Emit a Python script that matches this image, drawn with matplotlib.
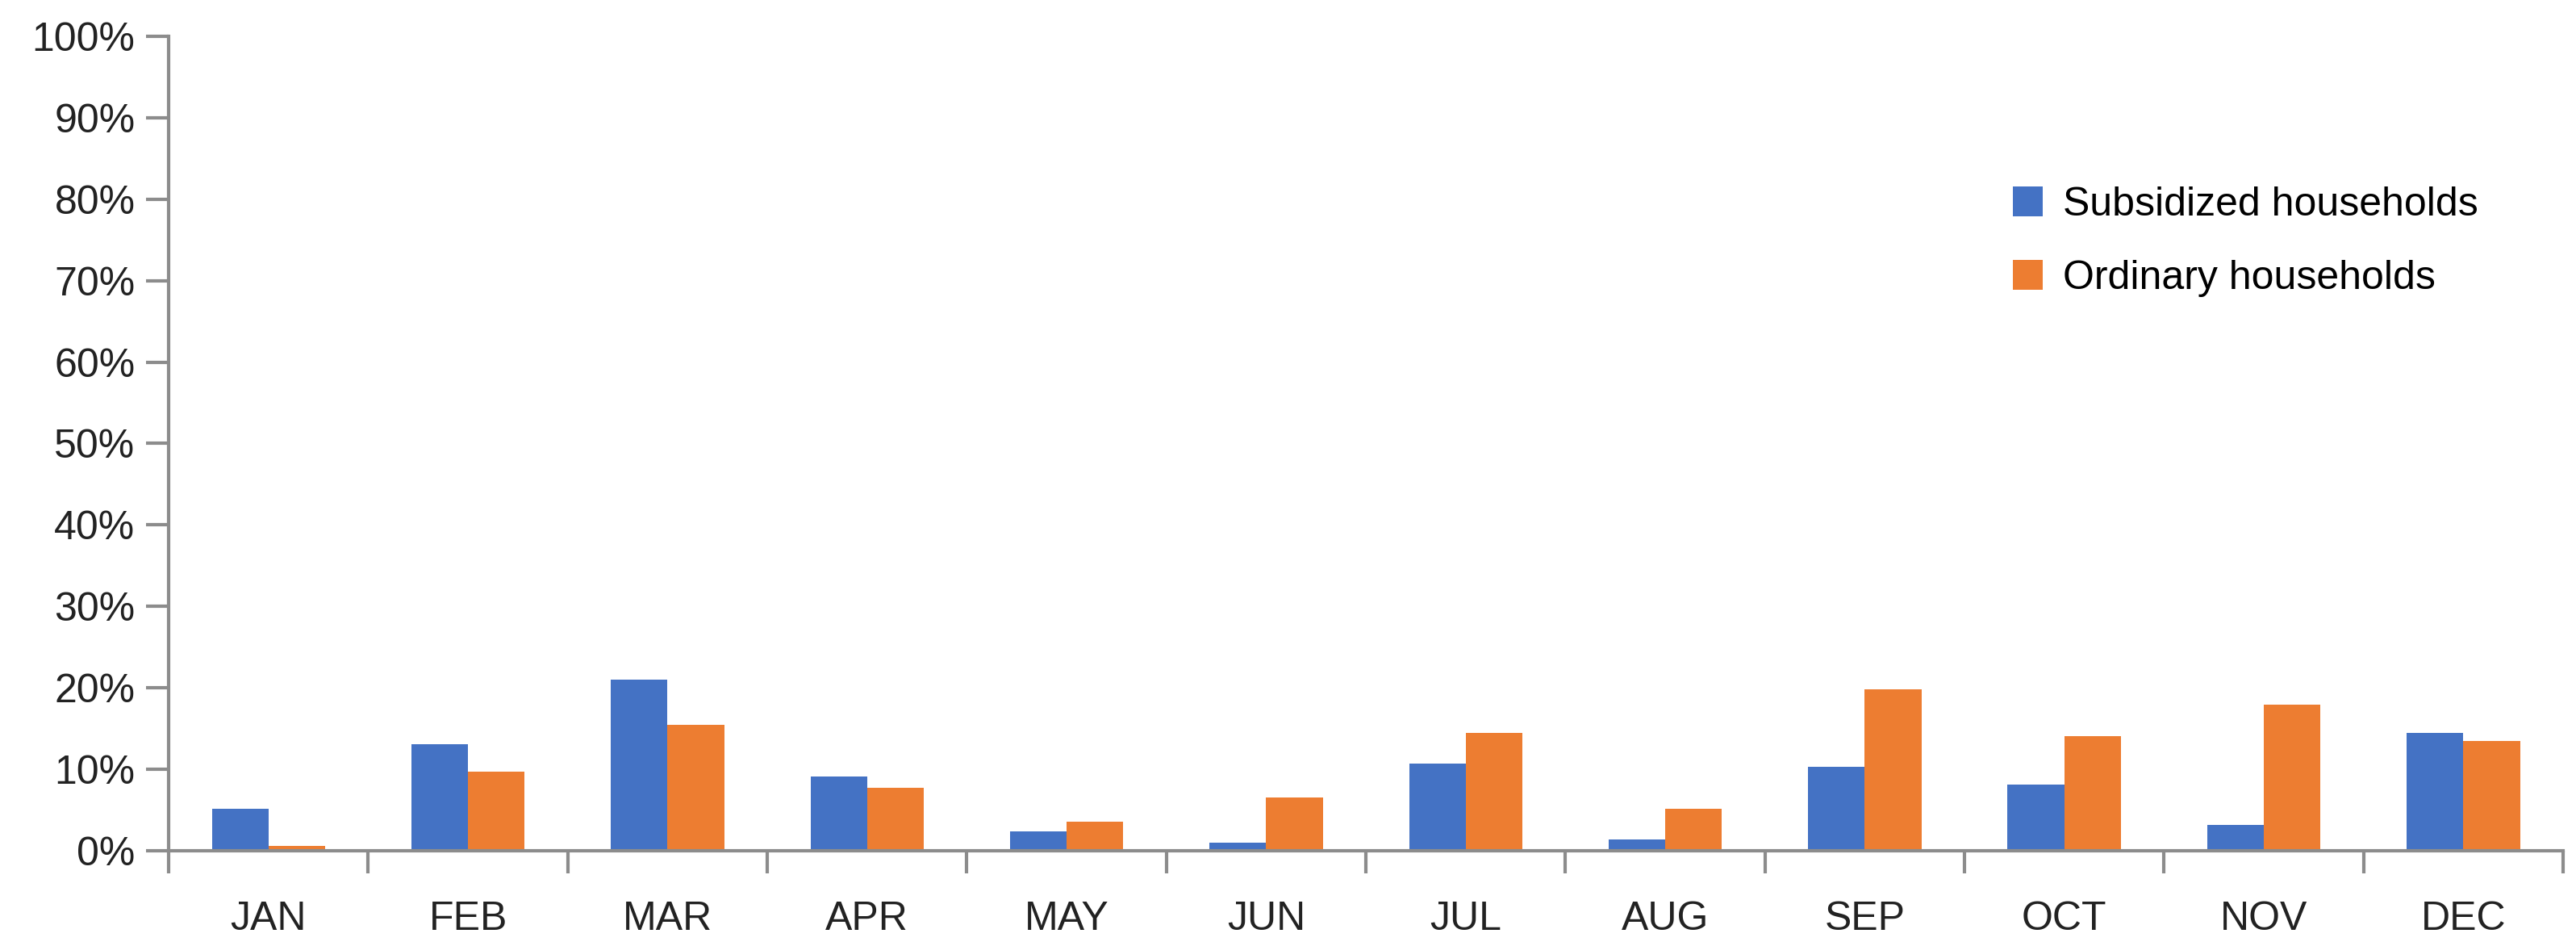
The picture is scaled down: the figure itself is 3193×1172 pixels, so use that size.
import matplotlib
matplotlib.use("Agg")
import matplotlib.pyplot as plt
import numpy as np
from matplotlib.ticker import PercentFormatter, FixedLocator

months = ["JAN", "FEB", "MAR", "APR", "MAY", "JUN", "JUL", "AUG", "SEP", "OCT", "NOV", "DEC"]
subsidized = [5.2, 13.1, 21.0, 9.1, 2.4, 1.0, 10.7, 1.4, 10.3, 8.1, 3.2, 14.5]
ordinary = [0.6, 9.7, 15.5, 7.7, 3.6, 6.5, 14.5, 5.2, 19.8, 14.1, 17.9, 13.5]

plt.rcParams["font.family"] = ["Liberation Sans", "DejaVu Sans"]
grey = "#8c8c8c"

fig = plt.figure(figsize=(31.93, 11.72), dpi=100)
ax = fig.add_axes([0.0655, 0.1007, 0.9295, 0.861])

x = np.arange(len(months))
w = 0.284
ax.bar(x - w / 2, subsidized, w, color="#4472c4", label="Subsidized households")
ax.bar(x + w / 2, ordinary, w, color="#ed7d31", label="Ordinary households")

ax.set_xlim(-0.5, len(months) - 0.5)
ax.set_ylim(0, 100)
ax.set_yticks(np.arange(0, 101, 10))
ax.yaxis.set_major_formatter(PercentFormatter(decimals=0))
ax.set_xticks(x)
ax.set_xticklabels(months)
ax.xaxis.set_minor_locator(FixedLocator(np.arange(-0.5, len(months), 1)))

for s in ("top", "right"):
    ax.spines[s].set_visible(False)
for s in ("left", "bottom"):
    ax.spines[s].set_color(grey)
    ax.spines[s].set_linewidth(3)

ax.tick_params(axis="y", direction="out", length=20, width=3, color=grey,
               labelsize=36, pad=10, labelcolor="#222222")
ax.tick_params(axis="x", which="major", length=0, labelsize=36, pad=45, labelcolor="#222222")
ax.tick_params(axis="x", which="minor", direction="out", length=20, width=3, color=grey)

ax.legend(loc="upper left", bbox_to_anchor=(0.755, 0.86), frameon=False,
          fontsize=36, handlelength=0.75, handleheight=0.75, labelspacing=0.9,
          handletextpad=0.5)

fig.savefig("out.png", dpi=100)
